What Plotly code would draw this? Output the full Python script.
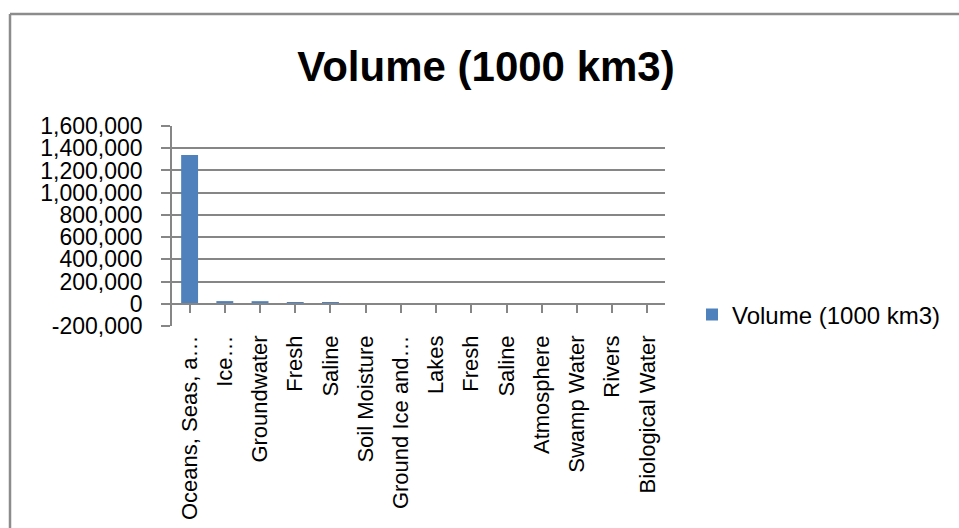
import plotly.graph_objects as go

categories = ["Oceans, Seas, a…", "Ice…", "Groundwater", "Fresh", "Saline",
              "Soil Moisture", "Ground Ice and…", "Lakes", "Fresh", "Saline",
              "Atmosphere", "Swamp Water", "Rivers", "Biological Water"]
volume = [1338000, 24064, 23400, 10530, 12870, 16.5, 300, 176.4, 91, 85.4,
          12.9, 11.47, 2.12, 1.12]
series_name = "Volume (1000 km3)"
y_ticks = [-200000, 0, 200000, 400000, 600000, 800000, 1000000, 1200000, 1400000, 1600000]
y_ticktext = [f"{v:,}" for v in y_ticks]

W, H = 959, 528
L, R, T, B = 172, 665, 126, 326
pw, ph = R - L, B - T

def px(x):
    return (x - L) / pw

def py(y):
    return (B - y) / ph

FONT = "Liberation Sans"
GRAY = "#868686"
BLUE = "#4F81BD"

x_idx = list(range(len(categories)))

fig = go.Figure()
fig.add_trace(go.Bar(x=x_idx, y=volume, name=series_name, marker_color=BLUE,
                     marker_line_width=0, showlegend=True))
fig.add_trace(go.Bar(x=x_idx, y=volume, xaxis="x2", marker_color="rgba(0,0,0,0)",
                     marker_line_width=0, showlegend=False, hoverinfo="skip"))

border = dict(color="#8c8c8c", width=2.5)
fig.update_layout(
    width=W, height=H,
    margin=dict(l=L, r=W - R, t=T, b=H - B, autoexpand=False),
    paper_bgcolor="white", plot_bgcolor="white",
    font=dict(family=FONT, size=23, color="black"),
    title=dict(text="<b>Volume (1000 km3)</b>", font=dict(size=42, family=FONT),
               x=486 / W, xanchor="center", xref="container",
               y=1 - 66 / H, yanchor="middle", yref="container"),
    bargap=0.52, barmode="overlay",
    showlegend=True,
    legend=dict(x=px(692), y=py(315), xanchor="left", yanchor="middle",
                font=dict(size=24), itemwidth=30, bgcolor="rgba(0,0,0,0)"),
    xaxis=dict(tickmode="array", tickvals=x_idx, ticktext=categories,
               range=[-0.5, len(categories) - 0.5], tickangle=-90, automargin=False,
               showgrid=False, showline=False, ticks="", zeroline=False,
               ticklabelstandoff=4, tickfont=dict(size=22)),
    xaxis2=dict(overlaying="x", anchor="free", position=(0 - y_ticks[0]) / (y_ticks[-1] - y_ticks[0]),
                range=[-0.5, len(categories) - 0.5], tickmode="array", tickvals=x_idx,
                showticklabels=False, showline=True, linecolor=GRAY, linewidth=1.5,
                ticks="outside", tickson="boundaries", ticklen=8, tickcolor=GRAY,
                tickwidth=1.5, showgrid=False, zeroline=False, automargin=False),
    yaxis=dict(range=[y_ticks[0], y_ticks[-1]], tickmode="array", tickvals=y_ticks,
               ticktext=y_ticktext, showgrid=True, gridcolor=GRAY, gridwidth=1.5,
               showline=True, linecolor=GRAY, linewidth=1.5, ticks="outside",
               ticklen=9, tickcolor=GRAY, tickwidth=1.5, zeroline=False, automargin=False,
               ticklabelstandoff=14, tickfont=dict(size=23)),
    shapes=[
        dict(type="line", xref="paper", yref="paper", x0=px(10), x1=px(10),
             y0=py(560), y1=py(14), line=border, layer="below"),
        dict(type="line", xref="paper", yref="paper", x0=px(10), x1=px(1000),
             y0=py(14), y1=py(14), line=border, layer="below"),
    ],
)

fig.write_html("out.html", config={"displayModeBar": False},
               post_script="document.body.style.margin='0px';document.body.style.overflow='hidden';")
